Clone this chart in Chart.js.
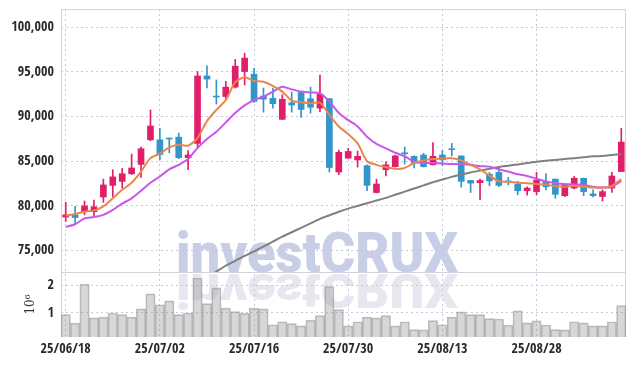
<!DOCTYPE html>
<html>
<head>
<meta charset="utf-8">
<script src="https://cdn.jsdelivr.net/npm/chart.js@4.4.1/dist/chart.umd.min.js"></script>
<style>
  html, body { margin: 0; padding: 0; background: #fff; }
  canvas { display: block; }
</style>
</head>
<body>
<canvas id="myChart" width="634" height="366"></canvas>
<script>
// trading days 25/06/18 .. 25/09/10
var dates = ['25/06/18','25/06/19','25/06/20','25/06/23','25/06/24','25/06/25','25/06/26','25/06/27','25/06/30',
  '25/07/01','25/07/02','25/07/03','25/07/04','25/07/07','25/07/08','25/07/09','25/07/10','25/07/11','25/07/14','25/07/15',
  '25/07/16','25/07/17','25/07/18','25/07/21','25/07/22','25/07/23','25/07/24','25/07/25','25/07/28','25/07/29',
  '25/07/30','25/07/31','25/08/01','25/08/04','25/08/05','25/08/06','25/08/07','25/08/08','25/08/11','25/08/12',
  '25/08/13','25/08/14','25/08/18','25/08/19','25/08/20','25/08/21','25/08/22','25/08/25','25/08/26','25/08/27',
  '25/08/28','25/08/29','25/09/01','25/09/02','25/09/03','25/09/04','25/09/05','25/09/08','25/09/09','25/09/10'];

var opens  = [78750,79000,79350,79350,81000,82300,82750,83600,84650,87400,
              87400,87600,87700,85400,87000,94550,92300,92250,93300,95050,
              94750,92300,92050,89700,91550,92700,92000,90950,92000,83800,
              85350,85150,84500,81500,84050,84400,85950,85550,85700,84600,
              85700,86400,85600,82850,82600,83550,83750,82800,82450,81700,
              81600,82750,83000,81150,82000,83100,81350,81050,82000,83850];
var highs  = [80400,79950,80550,80650,83000,84050,84200,85800,86600,90750,
              88700,87600,88150,86200,95050,95700,94100,93950,96400,97100,
              95400,93200,93200,92450,92750,92800,93300,94650,92050,86250,
              86450,86150,84600,83000,84950,85700,86600,85600,85900,87100,
              86200,87000,85600,82850,83000,83750,84400,83200,82750,82150,
              83750,83600,83000,82300,83300,83100,81800,81800,83750,88700];
var lows   = [78250,78100,79000,78900,80400,81050,82000,83500,83200,87300,
              85150,85950,85300,84050,86600,93200,91400,92050,93200,93550,
              91600,90500,90950,89650,90500,89900,90400,90550,83800,83500,
              85350,84350,81700,81450,83350,84350,84700,84250,84350,84600,
              84500,85600,82100,81500,80700,82250,82150,82350,81250,81200,
              81250,81800,80850,81050,81900,81150,81000,80550,81500,83850];
var closes = [79000,78700,80000,79900,82350,83250,83600,84250,86400,88950,
              85750,87500,85400,85700,94550,94200,92200,93300,95650,96550,
              91700,91950,91450,91950,91300,90800,91050,92500,84300,86000,
              86100,85550,82300,82450,84600,85600,85850,84800,84400,85550,
              85150,86300,82750,82550,82850,82800,82300,82700,81700,82000,
              82900,82150,81300,82300,83100,81600,81150,81600,83350,87150];

// moving averages as drawn
var ma5  = [78900,79100,79350,79500,79950,80850,81800,82600,83850,85350,
            85850,86550,86850,86750,87600,89500,90750,91850,93850,94400,
            94000,93900,93450,92800,91800,91600,91500,91550,90200,88900,
            88050,87000,85000,84600,84350,84150,84250,84800,85100,85250,
            85300,85350,85100,84600,84100,83400,82750,82700,82600,82550,
            82450,82400,82200,82150,82250,82150,82050,82050,82250,83000];
var ma20 = [77650,77950,78600,78750,79000,79550,80250,80850,81700,82600,
            83300,84100,84600,85250,86500,87500,88300,89350,90400,91250,
            91850,92250,92800,93350,93050,92800,92700,92600,91700,90400,
            89600,88900,87750,86950,86450,85950,85550,84950,84800,84800,
            84750,84700,84700,84600,84450,84400,84100,83850,83550,83350,
            83050,82750,82550,82450,82400,82350,82150,82050,82150,82800];
var ma60 = [null,null,null,null,null,null,null,null,null,null,
            null,null,null,null,null,72000,72650,73300,73850,74400,
            74900,75450,76000,76550,77050,77550,78050,78550,78950,79350,
            79700,80000,80300,80600,80900,81250,81600,81950,82300,82650,
            82950,83250,83500,83750,83950,84150,84350,84500,84650,84800,
            84950,85050,85150,85250,85350,85450,85550,85600,85700,85800];

// volume, millions of shares
var volumes = [0.94,0.63,2.06,0.82,0.85,1.00,0.94,0.85,1.15,1.70,
               1.30,1.44,0.94,1.00,2.28,1.34,1.92,1.18,1.05,0.99,
               1.18,1.15,0.57,0.68,0.61,0.53,0.74,0.90,1.97,1.12,
               0.53,0.68,0.85,0.82,0.90,0.53,0.68,0.39,0.38,0.72,
               0.57,0.85,1.04,0.94,0.94,0.79,0.78,0.56,1.08,0.64,
               0.71,0.56,0.39,0.38,0.68,0.64,0.53,0.53,0.68,1.27];

var priceTicks = [75000, 80000, 85000, 90000, 95000, 100000];
var volumeTicks = [1, 2];

var UP = '#e01f69', DOWN = '#3296c8';
var GRID = '#c6c9db';
var tickFont = { family: "'Open Sans Condensed', 'Roboto Condensed', sans-serif", size: 14, weight: 'bold' };

var candleColors = closes.map(function (c, i) { return c >= opens[i] ? UP : DOWN; });
var wicks = lows.map(function (l, i) { return [l, highs[i]]; });
var bodies = opens.map(function (o, i) { return [o, closes[i]]; });

function fixedTicks(list) {
  return function (s) { s.ticks = list.map(function (v) { return { value: v }; }); };
}
// fixed width, and no extra room reserved for half tick labels
function leftAxisFit(s) {
  s.width = 61;
  s.paddingTop = 0;
  s.paddingBottom = 0;
}

// watermark + its reflection, behind everything
var watermark = {
  id: 'watermark',
  beforeDraw: function (chart) {
    var c = chart.ctx;
    c.save();
    c.fillStyle = '#fff';
    c.fillRect(0, 0, chart.width, chart.height);
    var base = chart.scales.yv.top;
    c.font = '900 55px Roboto';
    var w = c.measureText('investCRUX').width;
    c.translate(chart.width / 2, base);
    c.scale(282 / w, 1);
    c.textAlign = 'center';
    c.textBaseline = 'alphabetic';
    c.fillStyle = '#c8cee6';
    c.fillText('investCRUX', 0, 0);
    c.scale(1, -0.88);
    c.fillStyle = '#e6e7ef';
    c.fillText('investCRUX', 0, -2);
    c.restore();
  }
};

// thin frame and the separator between price and volume panes
var frame = {
  id: 'frame',
  beforeDatasetsDraw: function (chart) {
    var a = chart.chartArea, c = chart.ctx;
    var sy = Math.round(chart.scales.yv.top) + 0.5;
    c.save();
    c.strokeStyle = '#d2d3dc';
    c.lineWidth = 1;
    c.beginPath();
    c.moveTo(a.left + 0.5, a.bottom);
    c.lineTo(a.left + 0.5, a.top + 0.5);
    c.lineTo(a.right - 0.5, a.top + 0.5);
    c.lineTo(a.right - 0.5, a.bottom);
    c.moveTo(a.left, sy);
    c.lineTo(a.right, sy);
    c.stroke();
    c.restore();
  }
};

var ctx = document.getElementById('myChart').getContext('2d');
var myChart = new Chart(ctx, {
  type: 'bar',
  data: {
    labels: dates,
    datasets: [
      { type: 'line', label: 'MA5', data: ma5, yAxisID: 'y', borderColor: '#ec8450', borderWidth: 2, pointRadius: 0, tension: 0.25, order: 0 },
      { type: 'line', label: 'MA20', data: ma20, yAxisID: 'y', borderColor: '#c957ea', borderWidth: 2, pointRadius: 0, tension: 0.25, order: 0 },
      { type: 'line', label: 'MA60', data: ma60, yAxisID: 'y', borderColor: '#808080', borderWidth: 2, pointRadius: 0, tension: 0.25, order: 0 },
      { label: 'wick', data: wicks, yAxisID: 'y', backgroundColor: candleColors, barThickness: 1, grouped: false, order: 1 },
      { label: 'body', data: bodies, yAxisID: 'y', backgroundColor: candleColors, barThickness: 6, grouped: false, order: 1 },
      { label: 'volume', data: volumes, yAxisID: 'yv', backgroundColor: 'rgba(150,150,150,0.38)', borderColor: 'rgba(120,120,120,0.45)',
        borderWidth: 1, barPercentage: 1, categoryPercentage: 1, grouped: false, order: 2 }
    ]
  },
  options: {
    responsive: false,
    animation: false,
    locale: 'en-US',
    layout: { padding: { top: 9, right: 8, left: 0, bottom: 0 } },
    plugins: { legend: { display: false }, tooltip: { enabled: false } },
    scales: {
      x: {
        offset: true,
        grid: { offset: false, color: GRID, drawTicks: false },
        border: { display: false, dash: [2, 3] },
        afterBuildTicks: function (s) { s.ticks = s.ticks.filter(function (t) { return t.value % 10 === 0; }); },
        ticks: { autoSkip: false, maxRotation: 0, padding: 4, color: '#2a2a2a', font: tickFont },
        afterFit: function (s) { s.height = 29; }
      },
      yv: {
        position: 'left', stack: 'panes', stackWeight: 65,
        min: 0.12, max: 2.5,
        afterBuildTicks: fixedTicks(volumeTicks),
        grid: { color: GRID, drawTicks: false },
        border: { display: false, dash: [2, 3] },
        ticks: { padding: 7, color: '#2a2a2a', font: tickFont },
        title: { display: true, text: '10⁶', color: '#333', font: { family: 'DejaVu Serif', size: 12 }, padding: { top: 24, bottom: 0 } },
        afterFit: leftAxisFit
      },
      y: {
        position: 'left', stack: 'panes', stackWeight: 263,
        min: 72600, max: 102050,
        afterBuildTicks: fixedTicks(priceTicks),
        grid: { color: GRID, drawTicks: false },
        border: { display: false, dash: [2, 3] },
        ticks: { padding: 7, color: '#2a2a2a', font: tickFont },
        afterFit: leftAxisFit
      }
    }
  },
  plugins: [watermark, frame]
});
</script>
</body>
</html>
